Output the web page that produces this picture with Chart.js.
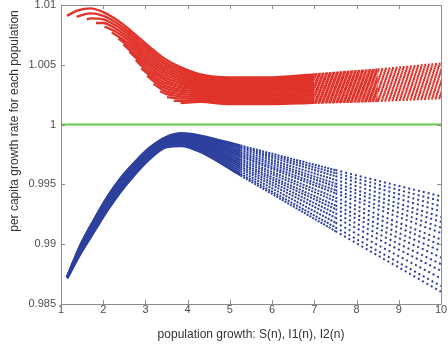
<!DOCTYPE html>
<html>
<head>
<meta charset="utf-8">
<script src="https://cdn.jsdelivr.net/npm/chart.js@4/dist/chart.umd.min.js"></script>
<style>
  body { margin: 0; background: #fff; }
  #rates { display: block; }
</style>
</head>
<body>
<canvas id="rates" width="448" height="347"></canvas>
<script>
// per capita growth rate against population size, one curve per run

const xTitle = 'population growth: S(n), I1(n), I2(n)';
const yTitle = 'per capita growth rate for each population';

const yTicks = [0.985, 0.99, 0.995, 1, 1.005, 1.01];

// I1 runs (red): every run starts at its own point, then shares the redX grid
const redStartX = [1.14, 1.37, 1.61, 1.83, 2.03, 2.20, 2.36, 2.48, 2.62, 2.77, 2.90, 3.04, 3.19, 3.35, 3.51, 3.67, 3.83];
const redStartY = [1.0091, 1.0090, 1.0088, 1.0085, 1.0082, 1.0077, 1.0072, 1.0067, 1.0061, 1.0054, 1.0047, 1.0041, 1.0034, 1.0028, 1.0023, 1.0020, 1.0018];
const redX = [1.4, 1.7, 2.0, 2.3, 2.6, 2.9, 3.2, 3.5, 3.8, 4.3, 5, 6, 7, 8.5, 10];
const redRates = [
    [1.00955, 1.00972, 1.0094, 1.0088, 1.0080, 1.0071, 1.0062, 1.0054, 1.00485, 1.0042, 1.00395, 1.00395, 1.0042, 1.0046, 1.0051],
    [1.00905, 1.0093, 1.0091, 1.00854, 1.00776, 1.00686, 1.00597, 1.00518, 1.00466, 1.00406, 1.00381, 1.00381, 1.00405, 1.00444, 1.00492],
    [null, 1.00888, 1.0088, 1.00828, 1.00752, 1.00662, 1.00573, 1.00496, 1.00447, 1.00391, 1.00367, 1.00367, 1.0039, 1.00427, 1.00474],
    [null, null, 1.0085, 1.00802, 1.00728, 1.00638, 1.0055, 1.00474, 1.00428, 1.00377, 1.00353, 1.00353, 1.00376, 1.00411, 1.00456],
    [null, null, null, 1.00776, 1.00704, 1.00614, 1.00526, 1.00452, 1.00409, 1.00362, 1.00339, 1.00339, 1.00361, 1.00395, 1.00438],
    [null, null, null, 1.0075, 1.0068, 1.0059, 1.00503, 1.0043, 1.0039, 1.00348, 1.00325, 1.00325, 1.00346, 1.00379, 1.0042],
    [null, null, null, null, 1.00656, 1.00566, 1.00479, 1.00408, 1.00371, 1.00334, 1.00311, 1.00311, 1.00331, 1.00362, 1.00402],
    [null, null, null, null, 1.00632, 1.00542, 1.00456, 1.00386, 1.00352, 1.00319, 1.00297, 1.00297, 1.00316, 1.00346, 1.00384],
    [null, null, null, null, null, 1.00518, 1.00432, 1.00364, 1.00333, 1.00305, 1.00283, 1.00283, 1.00302, 1.0033, 1.00366],
    [null, null, null, null, null, 1.00494, 1.00409, 1.00342, 1.00314, 1.0029, 1.00269, 1.00269, 1.00287, 1.00313, 1.00348],
    [null, null, null, null, null, null, 1.00385, 1.0032, 1.00295, 1.00276, 1.00255, 1.00255, 1.00272, 1.00297, 1.0033],
    [null, null, null, null, null, null, 1.00362, 1.00298, 1.00276, 1.00262, 1.00241, 1.00241, 1.00257, 1.00281, 1.00312],
    [null, null, null, null, null, null, 1.00338, 1.00276, 1.00257, 1.00247, 1.00227, 1.00227, 1.00242, 1.00264, 1.00294],
    [null, null, null, null, null, null, null, 1.00254, 1.00238, 1.00233, 1.00213, 1.00213, 1.00228, 1.00248, 1.00276],
    [null, null, null, null, null, null, null, null, 1.00219, 1.00218, 1.00199, 1.00199, 1.00213, 1.00232, 1.00258],
    [null, null, null, null, null, null, null, null, 1.002, 1.00204, 1.00185, 1.00185, 1.00198, 1.00216, 1.0024],
    [null, null, null, null, null, null, null, null, null, 1.0019, 1.00171, 1.00171, 1.00183, 1.00199, 1.00222]
];

// I2 runs (blue), all on the blueX grid
const blueX = [1.15, 1.45, 1.8, 2.1, 2.4, 2.75, 3.1, 3.5, 3.85, 4.3, 5.25, 7.5, 10];
const blueRates = [
    [0.98735, 0.9899, 0.9922, 0.9940, 0.9955, 0.9969, 0.9981, 0.9990, 0.9993, 0.9991, 0.99825, 0.9962, 0.9940],
    [0.98734, 0.98986, 0.99215, 0.99394, 0.99544, 0.99685, 0.99805, 0.99896, 0.99925, 0.99903, 0.99813, 0.99595, 0.9936],
    [0.98733, 0.98982, 0.99209, 0.99388, 0.99538, 0.99679, 0.998, 0.99891, 0.99919, 0.99896, 0.998, 0.99569, 0.99317],
    [0.98732, 0.98977, 0.99202, 0.99381, 0.99531, 0.99672, 0.99794, 0.99886, 0.99912, 0.99888, 0.99785, 0.99538, 0.99275],
    [0.98731, 0.98972, 0.99196, 0.99374, 0.99524, 0.99666, 0.99788, 0.9988, 0.99906, 0.99879, 0.9977, 0.99508, 0.99228],
    [0.9873, 0.98968, 0.9919, 0.99368, 0.99518, 0.9966, 0.99783, 0.99876, 0.999, 0.99872, 0.99757, 0.99482, 0.99186],
    [0.98728, 0.98964, 0.99184, 0.9936, 0.9951, 0.99654, 0.99777, 0.9987, 0.99894, 0.99864, 0.99742, 0.99452, 0.99139],
    [0.98727, 0.9896, 0.99178, 0.99354, 0.99504, 0.99648, 0.99772, 0.99866, 0.99888, 0.99857, 0.9973, 0.99426, 0.99094],
    [0.98726, 0.98954, 0.9917, 0.99346, 0.99496, 0.9964, 0.99765, 0.9986, 0.9988, 0.99847, 0.99712, 0.9939, 0.99039],
    [0.98725, 0.98949, 0.99164, 0.99339, 0.99489, 0.99634, 0.99759, 0.99854, 0.99874, 0.99839, 0.99697, 0.9936, 0.98992],
    [0.98723, 0.98944, 0.99156, 0.9933, 0.9948, 0.99626, 0.99752, 0.99848, 0.99866, 0.99829, 0.9968, 0.99324, 0.98942],
    [0.98722, 0.98939, 0.9915, 0.99323, 0.99473, 0.9962, 0.99746, 0.99842, 0.9986, 0.9982, 0.99665, 0.99294, 0.98889],
    [0.98721, 0.98933, 0.99142, 0.99315, 0.99465, 0.99612, 0.99739, 0.99836, 0.99852, 0.99811, 0.99647, 0.99258, 0.98833],
    [0.98719, 0.98928, 0.99134, 0.99306, 0.99456, 0.99604, 0.99732, 0.9983, 0.99844, 0.99801, 0.9963, 0.99222, 0.98778],
    [0.98718, 0.98921, 0.99125, 0.99297, 0.99447, 0.99595, 0.99724, 0.99823, 0.99835, 0.9979, 0.9961, 0.99181, 0.98714],
    [0.98716, 0.98915, 0.99117, 0.99287, 0.99437, 0.99587, 0.99716, 0.99815, 0.99827, 0.99778, 0.9959, 0.99141, 0.9865],
    [0.98715, 0.9891, 0.9911, 0.9928, 0.9943, 0.9958, 0.9971, 0.9981, 0.9982, 0.9977, 0.99575, 0.9911, 0.98603]
];

// S (green) stays at the neutral rate
const greenX = [1, 10];
const greenRates = [1, 1];

const RED = '#e0332a';
const BLUE = '#2e409e';
const GREEN = '#62cc4a';

const datasets = [];

datasets.push({
    data: greenX.map((x, i) => ({x: x, y: greenRates[i]})),
    borderColor: GREEN,
    borderWidth: 2
});

redRates.forEach((row, j) => {
    const pts = [{x: redStartX[j], y: redStartY[j]}];
    row.forEach((v, i) => { if (v !== null) pts.push({x: redX[i], y: v}); });
    datasets.push({
        data: pts,
        borderColor: RED,
        borderWidth: 2.4,
        cubicInterpolationMode: 'monotone',
        segment: {
            // samples thin out towards large populations; the offset slants the gaps
            borderDash: c => c.p0.parsed.x >= 8.5 ? [2, 1.6] : (c.p0.parsed.x >= 7 ? [3, 0.6] : undefined),
            borderDashOffset: () => j * 0.7
        }
    });
});

blueRates.forEach(row => {
    datasets.push({
        data: row.map((v, i) => ({x: blueX[i], y: v})),
        borderColor: BLUE,
        borderWidth: 2,
        cubicInterpolationMode: 'monotone',
        segment: {
            borderDash: c => c.p0.parsed.x >= 7.5 ? [2, 3] : (c.p0.parsed.x >= 5.25 ? [2, 1.2] : undefined)
        }
    });
});

// box, inward ticks on all four sides and the two axis titles
const frame = {
    id: 'frame',
    afterDatasetsDraw(chart) {
        const ctx = chart.ctx;
        const a = chart.chartArea;
        const xs = chart.scales.x, ys = chart.scales.y;
        ctx.save();
        ctx.strokeStyle = '#8c8c8c';
        ctx.lineWidth = 1;
        ctx.beginPath();
        ctx.rect(Math.round(a.left) + 0.5, Math.round(a.top) + 0.5, Math.round(a.right - a.left), Math.round(a.bottom - a.top));
        xs.ticks.forEach(t => {
            const px = Math.round(xs.getPixelForValue(t.value)) + 0.5;
            ctx.moveTo(px, a.bottom); ctx.lineTo(px, a.bottom - 4);
            ctx.moveTo(px, a.top); ctx.lineTo(px, a.top + 4);
        });
        ys.ticks.forEach(t => {
            const py = Math.round(ys.getPixelForValue(t.value)) + 0.5;
            ctx.moveTo(a.left, py); ctx.lineTo(a.left + 4, py);
            ctx.moveTo(a.right, py); ctx.lineTo(a.right - 4, py);
        });
        ctx.stroke();

        ctx.fillStyle = '#333';
        ctx.font = '12px "Liberation Sans", Arial, sans-serif';
        ctx.textAlign = 'center';
        ctx.textBaseline = 'middle';
        ctx.fillText(xTitle, (a.left + a.right) / 2, 335);
        ctx.translate(15, 121);
        ctx.rotate(-Math.PI / 2);
        ctx.fillText(yTitle, 0, 0);
        ctx.restore();
    }
};

const tickFont = {family: '"Liberation Sans", Arial, sans-serif', size: 11};

// keep the plot box fixed: no extra room for overhanging tick labels
const noOverhang = s => {
    s.paddingTop = 0;
    s.paddingBottom = 0;
    s.paddingLeft = 0;
    s.paddingRight = 0;
};

new Chart(document.getElementById('rates'), {
    type: 'line',
    data: {datasets: datasets},
    options: {
        responsive: false,
        animation: false,
        events: [],
        layout: {padding: {top: 5, right: 7, left: 0, bottom: 0}},
        elements: {point: {radius: 0}, line: {tension: 0}},
        plugins: {legend: {display: false}, tooltip: {enabled: false}},
        scales: {
            x: {
                type: 'linear',
                min: 1,
                max: 10,
                grid: {display: false, drawTicks: false},
                border: {display: false},
                ticks: {stepSize: 1, padding: -1, color: '#4d4d4d', font: tickFont, maxRotation: 0},
                afterFit: s => { s.height = 43; noOverhang(s); }
            },
            y: {
                type: 'linear',
                min: 0.985,
                max: 1.01,
                grid: {display: false, drawTicks: false},
                border: {display: false},
                afterBuildTicks: s => { s.ticks = yTicks.map(v => ({value: v})); },
                ticks: {
                    padding: 5,
                    color: '#4d4d4d',
                    font: tickFont,
                    callback: v => String(Number(v.toFixed(3)))
                },
                afterFit: s => { s.width = 61; noOverhang(s); }
            }
        }
    },
    plugins: [frame]
});
</script>
</body>
</html>
